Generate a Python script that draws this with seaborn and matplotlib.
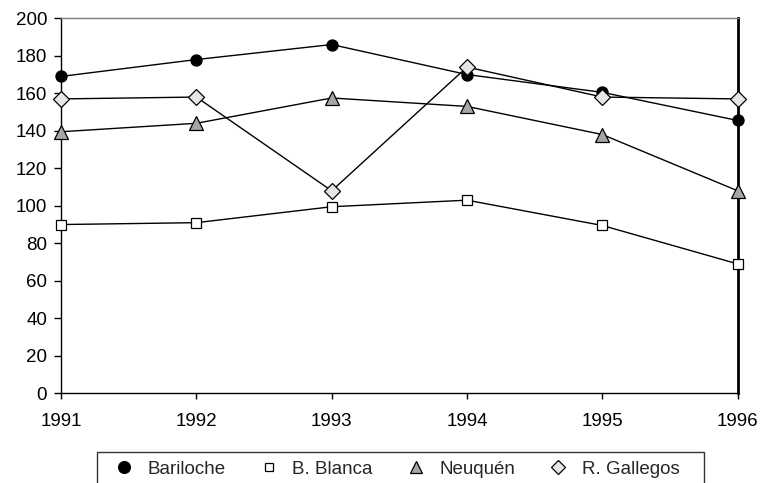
import matplotlib
matplotlib.use("Agg")
import matplotlib.pyplot as plt
from matplotlib.lines import Line2D
import seaborn as sns
import pandas as pd

# Yearly series per city
years = [1991, 1992, 1993, 1994, 1995, 1996]
bariloche = [169, 178, 186, 170, 160.5, 145.5]
b_blanca = [90, 91, 99.5, 103, 89.5, 69]
neuquen = [139.5, 144, 157.5, 153, 138, 108]
r_gallegos = [157, 158, 108, 174, 158, 157]

cities = ["Bariloche", "B. Blanca", "Neuquén", "R. Gallegos"]
series = [bariloche, b_blanca, neuquen, r_gallegos]
yticks = list(range(0, 201, 20))

sns.set_theme(style="white")
plt.rcParams["font.family"] = ["Liberation Sans", "DejaVu Sans"]

rows = []
for city, vals in zip(cities, series):
    for yr, v in zip(years, vals):
        rows.append({"year": yr, "value": v, "city": city})
df = pd.DataFrame(rows)

styles = {
    "Bariloche": dict(marker="o", mfc="black", ms=8),
    "B. Blanca": dict(marker="s", mfc="white", ms=6.5),
    "Neuquén": dict(marker="^", mfc="#a6a6a6", ms=10.5),
    "R. Gallegos": dict(marker="D", mfc="#e6e6e6", ms=8),
}

fig = plt.figure(figsize=(7.61, 4.83), dpi=100)
ax = fig.add_axes([61 / 761, (483 - 393.3) / 483, (737.7 - 61) / 761, (393.3 - 18.3) / 483])

for city in cities:
    st = styles[city]
    sns.lineplot(data=df[df["city"] == city], x="year", y="value", ax=ax,
                 color="black", linewidth=1.0, marker=st["marker"],
                 markerfacecolor=st["mfc"], markeredgecolor="black",
                 markeredgewidth=0.9, markersize=st["ms"], legend=False,
                 clip_on=False, zorder=3)

ax.set_xlim(years[0], years[-1])
ax.set_ylim(0, 200)
ax.set_xticks(years)
ax.set_xticklabels([str(y) for y in years])
ax.set_yticks(yticks)
ax.set_xlabel("")
ax.set_ylabel("")
ax.tick_params(axis="y", direction="out", length=5, width=1, pad=5,
               labelsize=13.5, colors="black", left=True)
ax.tick_params(axis="x", direction="out", length=4, width=1, pad=10.5,
               labelsize=13.5, colors="black", bottom=True)

for side in ["left", "bottom"]:
    ax.spines[side].set_color("black")
    ax.spines[side].set_linewidth(1.0)
ax.spines["right"].set_color("black")
ax.spines["right"].set_linewidth(2.0)
ax.spines["top"].set_color("#7f7f7f")
ax.spines["top"].set_linewidth(1.0)

legend_sizes = {"Bariloche": 8.5, "B. Blanca": 6, "Neuquén": 8.5, "R. Gallegos": 7}
handles = [
    Line2D([], [], linestyle="none", marker=styles[c]["marker"],
           markerfacecolor=styles[c]["mfc"], markeredgecolor="black",
           markeredgewidth=0.9, markersize=legend_sizes[c])
    for c in cities
]
leg_labels = cities[:-1] + [cities[-1] + "   "]
leg = fig.legend(handles, leg_labels, loc="upper left", ncol=4,
                 bbox_to_anchor=(97 / 761, (483 - 452) / 483),
                 fontsize=13.5, frameon=True, fancybox=False,
                 handlelength=2.0, handletextpad=0.25, borderpad=0.45,
                 columnspacing=1.3, borderaxespad=0)
leg.get_frame().set_edgecolor("black")
leg.get_frame().set_linewidth(1.0)

fig.savefig("out.png", dpi=100)
